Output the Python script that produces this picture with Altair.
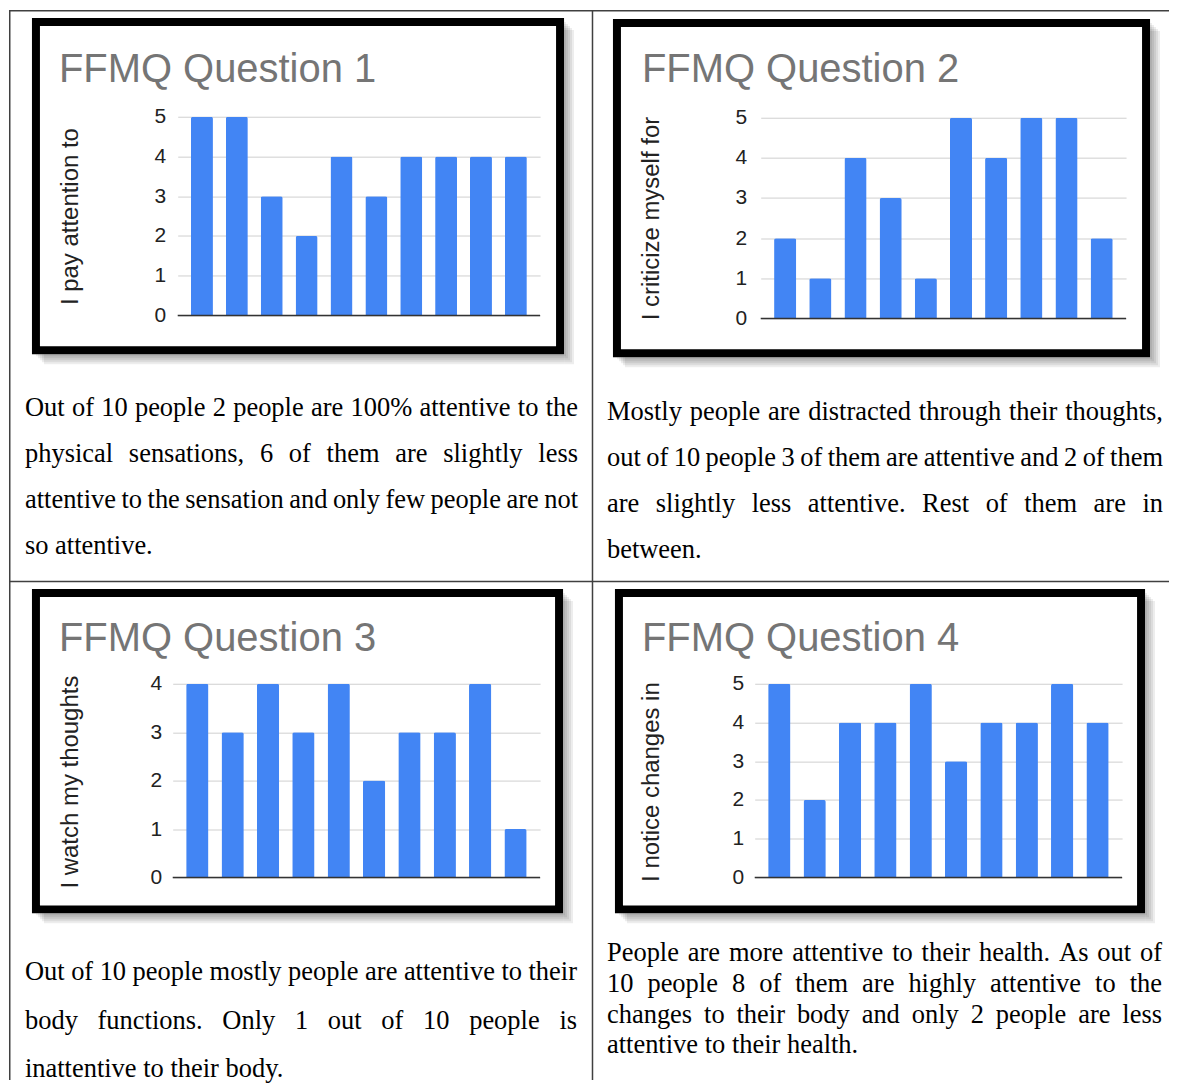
import altair as alt
import pandas as pd

# ---------------- data ----------------
titles = ["FFMQ Question 1", "FFMQ Question 2", "FFMQ Question 3", "FFMQ Question 4"]
y_titles = ["I pay attention to", "I criticize myself for", "I watch my thoughts", "I notice changes in"]
respondents = list(range(1, 11))
q1_scores = [5, 5, 3, 2, 4, 3, 4, 4, 4, 4]
q2_scores = [2, 1, 4, 3, 1, 5, 4, 5, 5, 2]
q3_scores = [4, 3, 4, 3, 4, 2, 3, 3, 4, 1]
q4_scores = [5, 2, 4, 4, 5, 3, 4, 4, 5, 4]
ticks_5 = [0, 1, 2, 3, 4, 5]
ticks_4 = [0, 1, 2, 3, 4]

q1_text = [
    "Out of 10 people 2 people are 100% attentive to the",
    "physical sensations, 6 of them are slightly less",
    "attentive to the sensation and only few people are not",
    "so attentive.",
]
q2_text = [
    "Mostly people are distracted through their thoughts,",
    "out of 10 people 3 of them are attentive and 2 of them",
    "are slightly less attentive. Rest of them are in",
    "between.",
]
q3_text = [
    "Out of 10 people mostly people are attentive to their",
    "body functions. Only 1 out of 10 people is",
    "inattentive to their body.",
]
q4_text = [
    "People are more attentive to their health. As out of",
    "10 people 8 of them are highly attentive to the",
    "changes to their body and only 2 people are less",
    "attentive to their health.",
]

# ---------------- layout (page pixels) ----------------
CX = [172, 755]   # plot-origin x of each column
RY = [115, 683]   # plot-origin y of each row
CELL_W, CELL_H = 368, 202

layout = [
    dict(r=0, c=0, plot_x=(177, 540), y0=314, ytop=115, lab_right=165, ytc=(70, 214.5),
         tpos=(58, 80), frame=(35, 20, 560, 349), px=(24, 578), base=[415, 461, 507, 553]),
    dict(r=0, c=1, plot_x=(761, 1127), y0=317, ytop=116, lab_right=747, ytc=(652, 216.5),
         tpos=(642, 80), frame=(617, 21, 1147, 352), px=(607, 1164), base=[419, 465, 511, 557]),
    dict(r=1, c=0, plot_x=(172, 540), y0=877, ytop=683, lab_right=161, ytc=(70, 781),
         tpos=(58, 650), frame=(35, 592, 559, 909), px=(24, 577), base=[980, 1029, 1077]),
    dict(r=1, c=1, plot_x=(755, 1123), y0=877, ytop=683, lab_right=744, ytc=(652, 781),
         tpos=(642, 650), frame=(619, 592, 1142, 909), px=(607, 1163), base=[961, 992, 1023, 1053]),
]

# Times / Liberation Serif advance widths (per 1000 em)
TW = {' ': 250, '%': 833, ',': 250, '.': 250,
      'A': 722, 'M': 889, 'O': 722, 'P': 556, 'R': 667, 'I': 333,
      'a': 444, 'b': 500, 'c': 444, 'd': 500, 'e': 444, 'f': 333, 'g': 500, 'h': 500,
      'i': 278, 'j': 278, 'k': 500, 'l': 278, 'm': 778, 'n': 500, 'o': 500, 'p': 500,
      'q': 500, 'r': 333, 's': 389, 't': 278, 'u': 500, 'v': 500, 'w': 722, 'x': 500,
      'y': 500, 'z': 444}
PARA_SIZE = 26.5


def word_rows(lines, left, right, baselines, ox, oy):
    rows = []
    width = right - left
    for i, (line, yb) in enumerate(zip(lines, baselines)):
        words = line.split(" ")
        wds = [sum(TW.get(ch, 500) for ch in w) * PARA_SIZE / 1000 for w in words]
        if i == len(lines) - 1 or len(words) == 1:
            gap = 250 * PARA_SIZE / 1000
        else:
            gap = (width - sum(wds)) / (len(words) - 1)
        x = left
        for w, wd in zip(words, wds):
            rows.append({"word": w, "x": x - ox, "y": yb - oy})
            x += wd + gap
    return pd.DataFrame(rows)


one = pd.DataFrame({"k": [0]})


def make_cell(i, scores, ticks, lines, L, table=False):
    ox, oy = CX[L["c"]], RY[L["r"]]
    xr = [L["plot_x"][0] - ox, L["plot_x"][1] - ox]
    yr = [L["y0"] - oy, L["ytop"] - oy]
    df = pd.DataFrame({"resp": respondents, "score": scores})

    layers = []
    # frame shadow (right and bottom strips)
    fx1, fy1, fx2, fy2 = L["frame"]
    ol, ot, orr, ob = fx1 - 4 - ox, fy1 - 4 - oy, fx2 + 4 - ox, fy2 + 4 - oy
    for d in [2, 4, 6, 8, 10]:
        layers.append(alt.Chart(one).mark_rect(color="#000000", opacity=0.07).encode(
            x=alt.value(orr), x2=alt.value(orr + d), y=alt.value(ot + d + 2), y2=alt.value(ob + d)))
        layers.append(alt.Chart(one).mark_rect(color="#000000", opacity=0.07).encode(
            x=alt.value(ol + d + 2), x2=alt.value(orr), y=alt.value(ob), y2=alt.value(ob + d)))
    # frame
    layers.append(alt.Chart(one).mark_rect(filled=False, color="#000000", strokeWidth=8).encode(
        x=alt.value(fx1 - ox), x2=alt.value(fx2 - ox), y=alt.value(fy1 - oy), y2=alt.value(fy2 - oy)))

    # bars
    yc = L["ytc"]
    bars = alt.Chart(df).mark_bar(color="#4285F4", cornerRadiusTopLeft=2, cornerRadiusTopRight=2).encode(
        x=alt.X("resp:O", scale=alt.Scale(range=xr, paddingInner=0.37, paddingOuter=0.38), axis=None),
        y=alt.Y("score:Q",
                scale=alt.Scale(domain=[0, ticks[-1]], range=yr, nice=False, zero=True),
                axis=alt.Axis(values=ticks, format="d", title=y_titles[i], grid=True,
                              gridColor="#cfcfcf", gridWidth=1, domain=False, ticks=False,
                              tickSize=0, labelPadding=ox - L["lab_right"], labelFontSize=21,
                              labelColor="#222222", labelFont="Liberation Sans",
                              titleFont="Liberation Sans", titleFontSize=24, titleFontWeight="normal",
                              titleColor="#222222", titleAngle=270, titleAlign="center",
                              titleBaseline="middle", titleX=yc[0] - ox, titleY=yc[1] - oy)),
    )
    layers.append(bars)
    # zero baseline
    layers.append(alt.Chart(one).mark_rule(color="#333333", strokeWidth=1.5).encode(
        x=alt.value(xr[0]), x2=alt.value(xr[1]), y=alt.datum(0)))
    # chart title
    layers.append(alt.Chart(one).mark_text(
        text=titles[i], align="left", baseline="alphabetic", font="Liberation Sans",
        fontSize=40, color="#757575").encode(
        x=alt.value(L["tpos"][0] - ox), y=alt.value(L["tpos"][1] - oy)))
    # paragraph
    wdf = word_rows(lines, L["px"][0], L["px"][1], L["base"], ox, oy)
    layers.append(alt.Chart(wdf).mark_text(
        align="left", baseline="alphabetic", font="Liberation Serif", fontSize=PARA_SIZE,
        color="#000000").encode(
        x=alt.X("x:Q", scale=None, axis=None), y=alt.Y("y:Q", scale=None, axis=None), text="word:N"))

    if table:
        lc, lw = "#404040", 1.5
        layers.append(alt.Chart(one).mark_rule(color=lc, strokeWidth=lw).encode(
            x=alt.value(8 - ox), x2=alt.value(1170 - ox), y=alt.value(8.75 - oy)))
        layers.append(alt.Chart(one).mark_rule(color=lc, strokeWidth=lw).encode(
            x=alt.value(8 - ox), x2=alt.value(1170 - ox), y=alt.value(580.5 - oy)))
        layers.append(alt.Chart(one).mark_rule(color=lc, strokeWidth=lw).encode(
            x=alt.value(8.75 - ox), y=alt.value(8 - oy), y2=alt.value(1080 - oy)))
        layers.append(alt.Chart(one).mark_rule(color=lc, strokeWidth=lw).encode(
            x=alt.value(592.5 - ox), y=alt.value(8 - oy), y2=alt.value(1080 - oy)))

    return alt.layer(*layers).properties(width=CELL_W, height=CELL_H)


cells = [
    make_cell(0, q1_scores, ticks_5, q1_text, layout[0], table=True),
    make_cell(1, q2_scores, ticks_5, q2_text, layout[1]),
    make_cell(2, q3_scores, ticks_4, q3_text, layout[2]),
    make_cell(3, q4_scores, ticks_5, q4_text, layout[3]),
]

chart = alt.concat(
    *cells, columns=2, spacing={"row": 683 - 115 - CELL_H, "column": 755 - 172 - CELL_W},
    bounds="flush",
).properties(padding=0).configure(background="white").configure_view(stroke=None)

chart.save("out.html", embed_options={"renderer": "svg", "actions": False})
